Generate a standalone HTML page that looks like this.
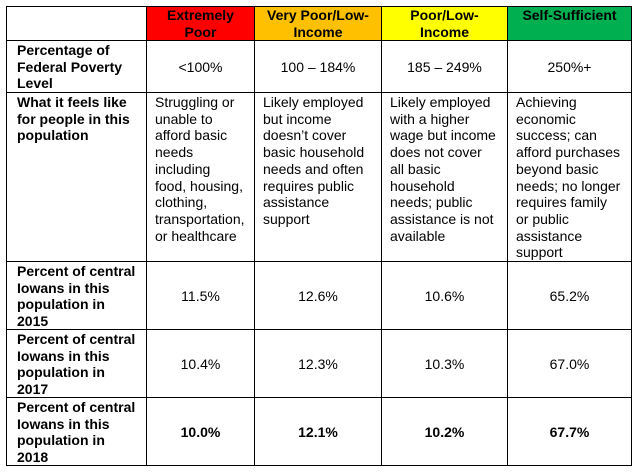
<!DOCTYPE html>
<html><head><meta charset="utf-8"><style>
body{margin:0;width:638px;height:475px;background:#fff;font-family:"Liberation Sans",Arial,sans-serif;font-size:14px;color:#000;position:relative;overflow:hidden}
.c{position:absolute;box-sizing:border-box;border:1px solid #000;line-height:16.7px;white-space:nowrap;padding:1px 8px 0 8px}
.b{font-weight:bold}
.h{text-align:center;font-weight:bold;padding-top:0}
.m{display:flex;align-items:center;justify-content:center;text-align:center}
</style></head><body>
<!-- header -->
<div class="c" style="left:6px;top:6px;width:141px;height:35px"></div>
<div class="c h" style="left:146px;top:6px;width:109px;height:35px;background:#ff0000">Extremely<br>Poor</div>
<div class="c h" style="left:254px;top:6px;width:128px;height:35px;background:#ffc000">Very Poor/Low-<br>Income</div>
<div class="c h" style="left:381px;top:6px;width:127px;height:35px;background:#ffff00">Poor/Low-<br>Income</div>
<div class="c h" style="left:507px;top:6px;width:125px;height:35px;background:#00b050">Self-Sufficient</div>
<!-- FPL -->
<div class="c b" style="left:6px;top:40px;width:141px;height:53px;padding-left:10px">Percentage of<br>Federal Poverty<br>Level</div>
<div class="c m" style="left:146px;top:40px;width:109px;height:53px">&lt;100%</div>
<div class="c m" style="left:254px;top:40px;width:128px;height:53px">100 – 184%</div>
<div class="c m" style="left:381px;top:40px;width:127px;height:53px">185 – 249%</div>
<div class="c m" style="left:507px;top:40px;width:125px;height:53px">250%+</div>
<!-- feels -->
<div class="c b" style="left:6px;top:92px;width:141px;height:170px;padding-left:10px">What it feels like<br>for people in this<br>population</div>
<div class="c" style="left:146px;top:92px;width:109px;height:170px">Struggling or<br>unable to<br>afford basic<br>needs<br>including<br>food, housing,<br>clothing,<br>transportation,<br>or healthcare</div>
<div class="c" style="left:254px;top:92px;width:128px;height:170px">Likely employed<br>but income<br>doesn’t cover<br>basic household<br>needs and often<br>requires public<br>assistance<br>support</div>
<div class="c" style="left:381px;top:92px;width:127px;height:170px">Likely employed<br>with a higher<br>wage but income<br>does not cover<br>all basic<br>household<br>needs; public<br>assistance is not<br>available</div>
<div class="c" style="left:507px;top:92px;width:125px;height:170px">Achieving<br>economic<br>success; can<br>afford purchases<br>beyond basic<br>needs; no longer<br>requires family<br>or public<br>assistance<br>support</div>
<!-- 2015 -->
<div class="c b" style="left:6px;top:261px;width:141px;height:69px;padding-left:10px">Percent of central<br>Iowans in this<br>population in<br>2015</div>
<div class="c m" style="left:146px;top:261px;width:109px;height:69px">11.5%</div>
<div class="c m" style="left:254px;top:261px;width:128px;height:69px">12.6%</div>
<div class="c m" style="left:381px;top:261px;width:127px;height:69px">10.6%</div>
<div class="c m" style="left:507px;top:261px;width:125px;height:69px">65.2%</div>
<!-- 2017 -->
<div class="c b" style="left:6px;top:329px;width:141px;height:69px;padding-left:10px">Percent of central<br>Iowans in this<br>population in<br>2017</div>
<div class="c m" style="left:146px;top:329px;width:109px;height:69px">10.4%</div>
<div class="c m" style="left:254px;top:329px;width:128px;height:69px">12.3%</div>
<div class="c m" style="left:381px;top:329px;width:127px;height:69px">10.3%</div>
<div class="c m" style="left:507px;top:329px;width:125px;height:69px">67.0%</div>
<!-- 2018 -->
<div class="c b" style="left:6px;top:397px;width:141px;height:69px;padding-left:10px">Percent of central<br>Iowans in this<br>population in<br>2018</div>
<div class="c m b" style="left:146px;top:397px;width:109px;height:69px">10.0%</div>
<div class="c m b" style="left:254px;top:397px;width:128px;height:69px">12.1%</div>
<div class="c m b" style="left:381px;top:397px;width:127px;height:69px">10.2%</div>
<div class="c m b" style="left:507px;top:397px;width:125px;height:69px">67.7%</div>
</body></html>
